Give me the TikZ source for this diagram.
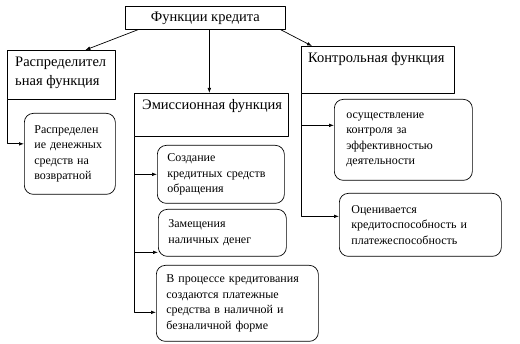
\documentclass[tikz,border=0pt]{standalone}
\usepackage{fontspec}
\setmainfont{Liberation Serif}
\usetikzlibrary{arrows.meta,calc,positioning}

\begin{document}
\begin{tikzpicture}[
  x=1pt, y=-1pt,
  line join=round,
  font=\rmfamily\fontsize{12}{15.5}\selectfont,
  link/.style={-{Latex[length=5pt,width=3.6pt]}, line width=0.7pt, draw=black},
  head/.style={draw=black, line width=0.7pt, inner sep=0pt, anchor=north west, font=\rmfamily\fontsize{14.5}{19}\selectfont},
  headtext/.style={anchor=north west, inner sep=0pt, xshift=8pt, yshift=-6.5pt, align=left, font=\rmfamily\fontsize{14.5}{19}\selectfont},
  card/.style={draw=black, line width=0.7pt, rounded corners=9pt, anchor=north west, align=left, inner xsep=10pt, inner ysep=0pt}
]

\useasboundingbox (0,0) rectangle (520,344);

% Headings.
\node[head, minimum width=160pt, minimum height=23pt] (title) at (125,6) {Функции кредита};
\node[head, minimum width=108pt, minimum height=49pt,
  label={[headtext]north west:{Распределител\\ьная функция}}] (distr) at (7,50) {};
\node[head, minimum width=154pt, minimum height=43pt,
  label={[headtext]north west:{Эмиссионная функция}}] (emis) at (134,93) {};
\node[head, minimum width=153pt, minimum height=47pt,
  label={[headtext, xshift=-1pt]north west:{Контрольная функция}}] (ctrl) at (301,46) {};

% Rounded cards.
\node[card, text width=71pt, minimum width=91pt, minimum height=81pt] (retCard) at (24,113)
  {Распределен\\ие денежных\\средств на\\возвратной};
\node[card, text width=107pt, minimum width=127pt, minimum height=58pt] (createCard) at (157,145)
  {Создание\\кредитных средств\\обращения};
\node[card, text width=108pt, minimum width=128pt, minimum height=47pt] (cashCard) at (158,209)
  {Замещения\\наличных денег};
\node[card, text width=142pt, minimum width=162pt, minimum height=76pt] (payCard) at (156,265)
  {В процессе кредитования\\создаются платежные\\средства в наличной и\\безналичной форме};
\node[card, inner xsep=12pt, text width=114pt, minimum width=138pt, minimum height=81pt] (effCard) at (334,99)
  {осуществление\\контроля за\\эффективностью\\деятельности};
\node[card, inner xsep=12pt, text width=138pt, minimum width=162pt, minimum height=63pt] (rateCard) at (339,193)
  {Оценивается\\кредитоспособность и\\платежеспособность};

% Arrow ends on the cards.
\coordinate (retIn) at ([yshift=10pt]retCard.west);
\coordinate (cashIn) at ([yshift=-19.5pt]cashCard.west);
\coordinate (payIn) at ([yshift=-9pt]payCard.west);
\coordinate (effIn) at ([yshift=14.5pt]effCard.west);
\coordinate (rateIn) at ([yshift=8.5pt]rateCard.west);

% From the title.
\draw[link] ([xshift=13pt]title.south west) -- ([xshift=24pt]distr.north);
\draw[link] ([xshift=4pt]title.south) -- ([xshift=-2pt]emis.north);
\draw[link] ([xshift=-5pt]title.south east) -- ([xshift=11pt]ctrl.north west);

% Branches.
\draw[link] (distr.south west) |- (retIn);

\draw[link] (emis.south west) |- (payIn);
\draw[link] (emis.south west |- createCard.west) -- (createCard.west);
\draw[link] (emis.south west |- cashIn) -- (cashIn);

\draw[link] (ctrl.south west) |- (rateIn);
\draw[link] (ctrl.south west |- effIn) -- (effIn);

\end{tikzpicture}
\end{document}
